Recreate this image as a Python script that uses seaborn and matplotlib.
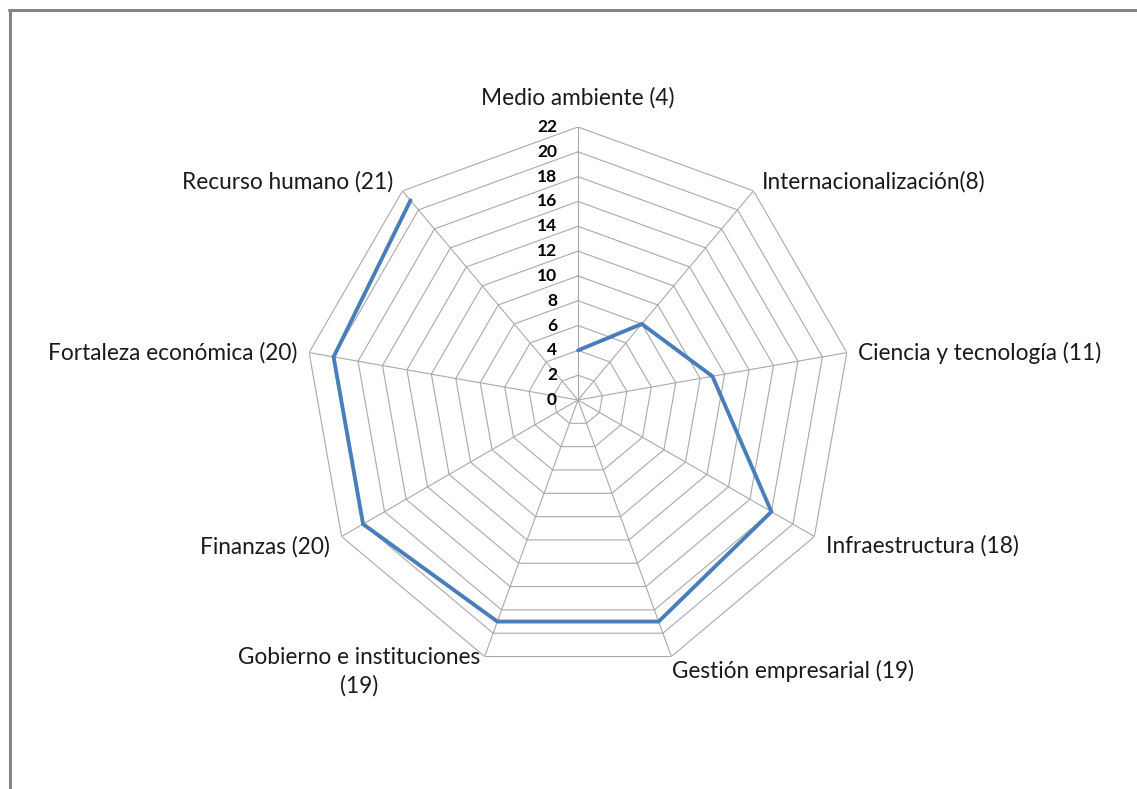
import numpy as np
import matplotlib
matplotlib.use("Agg")
import matplotlib.pyplot as plt
from matplotlib.lines import Line2D
import seaborn as sns

categories = ["Medio ambiente (4)", "Internacionalización(8)", "Ciencia y tecnología (11)",
              "Infraestructura (18)", "Gestión empresarial (19)", "Gobierno e instituciones\n(19)",
              "Finanzas (20)", "Fortaleza económica (20)", "Recurso humano (21)"]
values = [4, 8, 11, 18, 19, 19, 20, 20, 21]
r_ticks = list(range(0, 23, 2))
r_max = 22

sns.set_theme(style="white")
plt.rcParams['font.family'] = ['Lato', 'DejaVu Sans']

W, H = 1137, 789
fig = plt.figure(figsize=(W / 100, H / 100), dpi=100)
cx, cy, R = 578, 400, 273
ax = fig.add_axes([(cx - R) / W, (H - cy - R) / H, 2 * R / W, 2 * R / H], projection='polar')
ax.set_theta_zero_location('N')
ax.set_theta_direction(-1)
ax.set_ylim(0, r_max)
ax.grid(False)
ax.spines['polar'].set_visible(False)
ax.set_xticks([])
ax.set_yticks([])
ax.patch.set_alpha(0)

n = len(categories)
theta = np.arange(n) * 2 * np.pi / n
theta_c = np.append(theta, theta[0])

grid_col = '#A9A9A9'
for r in r_ticks[1:]:
    ax.plot(theta_c, [r] * (n + 1), color=grid_col, lw=0.8, zorder=1)
for t in theta:
    ax.plot([t, t], [0, r_max], color=grid_col, lw=0.8, zorder=1)

vals_c = values + [values[0]]
sns.lineplot(x=theta_c, y=vals_c, ax=ax, color='#4A7EBB', lw=2.8, sort=False, zorder=3)

for r in r_ticks:
    ax.annotate(str(r), xy=(0, r), xytext=(-21, 0), textcoords='offset pixels',
                ha='right', va='center', fontsize=12.5, fontweight='bold', color='black', zorder=4)

offsets = [(0, 29, 'center'), (8.5, 9, 'left'), (11, 0, 'left'), (12, -9.5, 'left'),
           (1, -14.5, 'left'), (-4.5, -15.5, 'right'), (-11.5, -10.5, 'right'),
           (-12, 0, 'right'), (-9.5, 9, 'right')]
for t, lab, (dx, dy, ha) in zip(theta, categories, offsets):
    ax.annotate(lab, xy=(t, r_max), xytext=(dx, dy), textcoords='offset pixels',
                ha=ha, va='center', multialignment='center', fontsize=16.3, color='#1a1a1a',
                linespacing=1.42)

ax.set_xlabel('')
ax.set_ylabel('')
if ax.get_legend():
    ax.get_legend().remove()

bc = '#858585'
fig.add_artist(Line2D([9.5 / W, 9.5 / W], [0, 1 - 9.5 / H], color=bc, lw=2.2, transform=fig.transFigure))
fig.add_artist(Line2D([8.5 / W, 1], [1 - 9.5 / H, 1 - 9.5 / H], color=bc, lw=2.2, transform=fig.transFigure))

fig.savefig('out.png', dpi=100, facecolor='white')
